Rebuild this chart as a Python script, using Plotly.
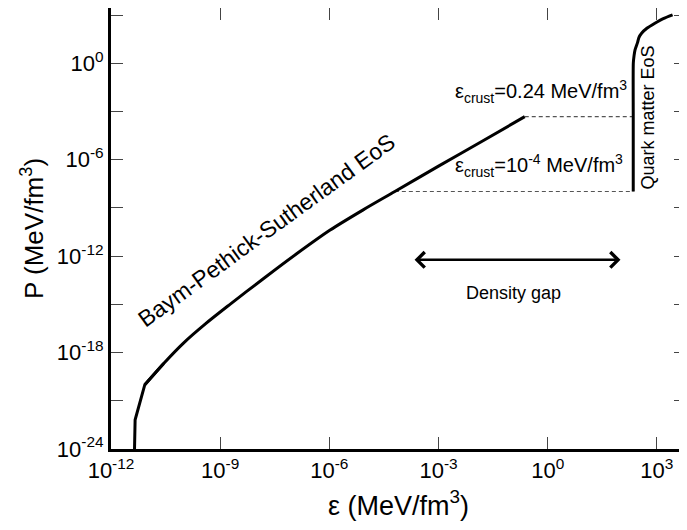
import plotly.graph_objects as go

# Baym-Pethick-Sutherland EoS (energy density, pressure) in MeV/fm^3
bps_eps = [4.4e-12, 4.6e-12, 8.5e-12, 2.8e-11, 9.8e-11, 4.0e-10, 1.86e-9, 1.5e-8,
           1.26e-7, 1.05e-6, 8.5e-6, 6.3e-5, 1.0e-3, 1.58e-2, 0.234]
bps_P = [5e-25, 6.6e-23, 1.0e-20, 2.1e-19, 3.9e-18, 6.3e-17, 1.0e-15, 3.8e-14,
         1.4e-12, 4.2e-11, 7.6e-10, 1.05e-8, 4.0e-7, 1.4e-5, 4.8e-4]

# Quark matter EoS
quark_eps = [224, 224, 225, 236, 251, 295, 320, 380, 531, 881, 1500, 2700]
quark_P = [1.05e-8, 4.8e-4, 1.0, 3.0, 6.9, 20, 40, 74, 150, 309, 600, 1020]

# crust end points (where the dashed lines start)
crust_eps = [6.3e-5, 0.234]
crust_P = [1.05e-8, 4.8e-4]

x_tickvals = [1e-12, 1e-9, 1e-6, 1e-3, 1e0, 1e3]
x_ticktext = ["10<sup>-12</sup>", "10<sup>-9</sup>", "10<sup>-6</sup>",
              "10<sup>-3</sup>", "10<sup>0</sup>", "10<sup>3</sup>"]
y_tickvals = [1e-24, 1e-21, 1e-18, 1e-15, 1e-12, 1e-9, 1e-6, 1e-3, 1e0, 1e3]
y_ticktext = ["10<sup>-24</sup>", "", "10<sup>-18</sup>", "", "10<sup>-12</sup>", "",
              "10<sup>-6</sup>", "", "10<sup>0</sup>", ""]

xrange_log = [-12, 3.80]
yrange_log = [-24, 3.44]

FONT = "Liberation Sans, Arial, sans-serif"

fig = go.Figure()

# dashed lines across the density gap
for e, p in zip(crust_eps, crust_P):
    fig.add_trace(go.Scatter(x=[e, quark_eps[0]], y=[p, p], mode="lines",
                             line=dict(color="#555555", width=1.2, dash="4px,3px"),
                             hoverinfo="skip", showlegend=False))

# BPS: sharp low-density part, smooth upper part
fig.add_trace(go.Scatter(x=bps_eps[:4], y=bps_P[:4], mode="lines",
                         line=dict(color="black", width=3),
                         showlegend=False))
fig.add_trace(go.Scatter(x=bps_eps[2:], y=bps_P[2:], mode="lines",
                         line=dict(color="black", width=3, shape="spline", smoothing=0.8),
                         showlegend=False))
fig.add_trace(go.Scatter(x=quark_eps, y=quark_P, mode="lines",
                         line=dict(color="black", width=3, shape="spline", smoothing=0.6),
                         showlegend=False))
# invisible trace to anchor mirror axes
fig.add_trace(go.Scatter(x=quark_eps, y=quark_P, mode="lines", xaxis="x2", yaxis="y2",
                         line=dict(color="rgba(0,0,0,0)"), hoverinfo="skip",
                         showlegend=False))

axis_common = dict(type="log", ticks="inside", ticklen=12, tickwidth=1.3,
                   tickcolor="#444444", showgrid=False, zeroline=False, automargin=False)

fig.update_layout(
    width=679, height=522,
    margin=dict(l=103, r=1, t=0, b=81),
    paper_bgcolor="white", plot_bgcolor="white",
    font=dict(family=FONT, color="black", size=22),
    xaxis=dict(**axis_common, range=xrange_log, tickvals=x_tickvals, ticktext=x_ticktext,
               showline=True, linewidth=3, linecolor="black",
               tickfont=dict(size=22),
               title=dict(text="ε (MeV/fm<sup>3</sup>)", font=dict(size=27), standoff=14)),
    yaxis=dict(**axis_common, range=yrange_log, tickvals=y_tickvals, ticktext=y_ticktext,
               showline=True, linewidth=3, linecolor="black",
               tickfont=dict(size=22),
               title=dict(text="P (MeV/fm<sup>3</sup>)", font=dict(size=26), standoff=6)),
    xaxis2=dict(**axis_common, range=xrange_log, tickvals=x_tickvals, overlaying="x",
                side="top", anchor="y2", showticklabels=False,
                showline=True, linewidth=1.2, linecolor="#222222"),
    yaxis2=dict(**axis_common, range=yrange_log, tickvals=y_tickvals, overlaying="y",
                side="right", anchor="x2", showticklabels=False,
                showline=True, linewidth=1.2, linecolor="#222222"),
)

ann_font = dict(family=FONT, color="black")
fig.add_annotation(x=-7.72, y=-10.36, xref="x", yref="y", text="Baym-Pethick-Sutherland EoS",
                   textangle=-36, showarrow=False, font=dict(**ann_font, size=23))
fig.add_annotation(x=-0.19, y=-1.78, xref="x", yref="y",
                   text="ε<sub>crust</sub>=0.24 MeV/fm<sup>3</sup>",
                   showarrow=False, font=dict(**ann_font, size=20))
fig.add_annotation(x=-0.24, y=-6.38, xref="x", yref="y",
                   text="ε<sub>crust</sub>=10<sup>-4</sup> MeV/fm<sup>3</sup>",
                   showarrow=False, font=dict(**ann_font, size=20))
fig.add_annotation(x=2.76, y=-3.37, xref="x", yref="y", text="Quark matter EoS",
                   textangle=-90, showarrow=False, font=dict(**ann_font, size=18))
fig.add_annotation(x=-0.93, y=-14.28, xref="x", yref="y", text="Density gap",
                   showarrow=False, font=dict(**ann_font, size=18))
# double-headed arrow
fig.add_annotation(x=2.00, y=-12.23, ax=-3.70, ay=-12.23, xref="x", yref="y",
                   axref="x", ayref="y", text="", showarrow=True,
                   arrowhead=4, startarrowhead=4, arrowside="end+start",
                   arrowwidth=2.5, arrowsize=1.2, startarrowsize=1.2, arrowcolor="black")

fig.write_html("out.html")
